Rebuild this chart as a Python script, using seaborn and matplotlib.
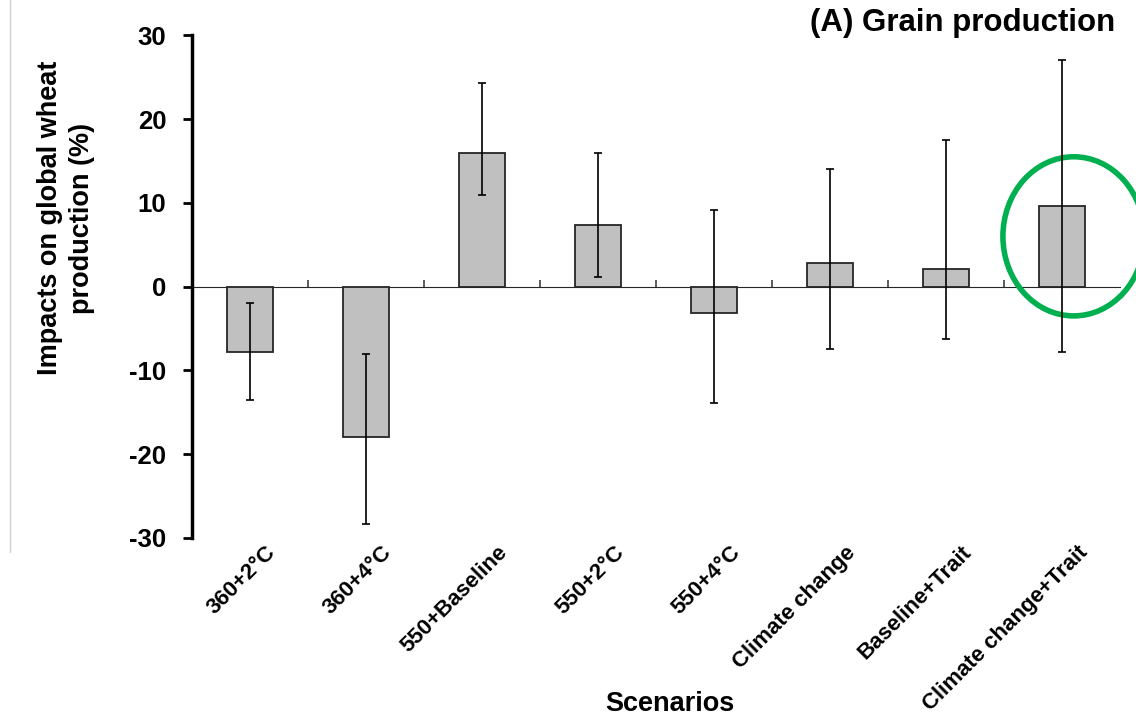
import numpy as np
import pandas as pd
import seaborn as sns
import matplotlib.pyplot as plt
import matplotlib.transforms as mtransforms
from matplotlib.patches import Ellipse
from matplotlib.lines import Line2D

# data
scenarios = ["360+2°C", "360+4°C", "550+Baseline", "550+2°C", "550+4°C",
             "Climate change", "Baseline+Trait", "Climate change+Trait"]
impacts = [-7.8, -17.9, 15.9, 7.3, -3.1, 2.8, 2.1, 9.6]
err_low = [-13.5, -28.4, 10.9, 1.15, -13.9, -7.4, -6.3, -7.8]
err_high = [-1.9, -8.0, 24.3, 15.9, 9.1, 14.0, 17.5, 27.0]
y_ticks = [-30, -20, -10, 0, 10, 20, 30]

df = pd.DataFrame({"Scenario": scenarios, "Impact": impacts})

sns.set_style("white")
plt.rcParams["font.family"] = ["Liberation Sans", "DejaVu Sans"]
plt.rcParams["font.weight"] = "bold"
plt.rcParams["axes.unicode_minus"] = False
for key in ["text.color", "axes.labelcolor", "xtick.color", "ytick.color"]:
    plt.rcParams[key] = "black"

fig = plt.figure(figsize=(11.36, 7.21), dpi=100)
ax = fig.add_axes([0.169, 0.254, 0.817, 0.697])

sns.barplot(data=df, x="Scenario", y="Impact", color="#C0C0C0", width=0.4,
            edgecolor="#262626", linewidth=1.3, saturation=1, errorbar=None, ax=ax)

# asymmetric error bars
vals = np.array(impacts)
yerr = [vals - np.array(err_low), np.array(err_high) - vals]
ax.errorbar(np.arange(len(scenarios)), vals, yerr=yerr, fmt="none",
            ecolor="black", elinewidth=1.2, capsize=3, capthick=1.2)

ax.set_xlim(-0.5, len(scenarios) - 0.5)
ax.set_ylim(-30, 30)
ax.set_yticks(y_ticks)
ax.tick_params(axis="y", direction="out", length=6.5, width=2, labelsize=18.5, pad=12,
               left=True, colors="black")
for lab in ax.get_yticklabels():
    lab.set_fontweight("bold")

for s in ["top", "right", "bottom"]:
    ax.spines[s].set_visible(False)
ax.spines["left"].set_linewidth(2.5)
ax.spines["left"].set_color("black")

# x category labels at the bottom, rotated
ax.tick_params(axis="x", length=0, labelsize=16, pad=3, colors="black")
offset = mtransforms.ScaledTranslation(11 / 72, 0, fig.dpi_scale_trans)
for lab in ax.get_xticklabels():
    lab.set_rotation(45)
    lab.set_ha("right")
    lab.set_rotation_mode("anchor")
    lab.set_fontweight("bold")
    lab.set_transform(lab.get_transform() + offset)

# zero line with separator ticks
sec = ax.secondary_xaxis(0.5)
sec.set_xticks(np.arange(len(scenarios) - 1) + 0.5)
sec.set_xticklabels([])
sec.tick_params(direction="out", length=5, width=1.2, color="#404040")
sec.spines["bottom"].set_color("#404040")
sec.spines["bottom"].set_linewidth(1.5)

ax.set_ylabel("Impacts on global wheat\nproduction (%)", fontsize=19.5,
              fontweight="bold", linespacing=1.3)
ax.yaxis.set_label_coords(-0.105, 0.636)
ax.set_xlabel("Scenarios", fontsize=19.5, fontweight="bold", labelpad=0)
ax.xaxis.set_label_coords(0.515, -0.305)

fig.text(0.982, 0.968, "(A) Grain production", ha="right", va="center",
         fontsize=22.5, fontweight="bold")

# green highlight circle
ell = Ellipse((7.1, 6.0), width=1.22, height=19.0, fill=False,
              edgecolor="#00B050", linewidth=4, clip_on=False)
ax.add_patch(ell)

# faint left border line
fig.add_artist(Line2D([0.009, 0.009], [0.235, 1.0], transform=fig.transFigure,
                      color="#D0D0D0", linewidth=1))

fig.savefig("out.png", dpi=100)
